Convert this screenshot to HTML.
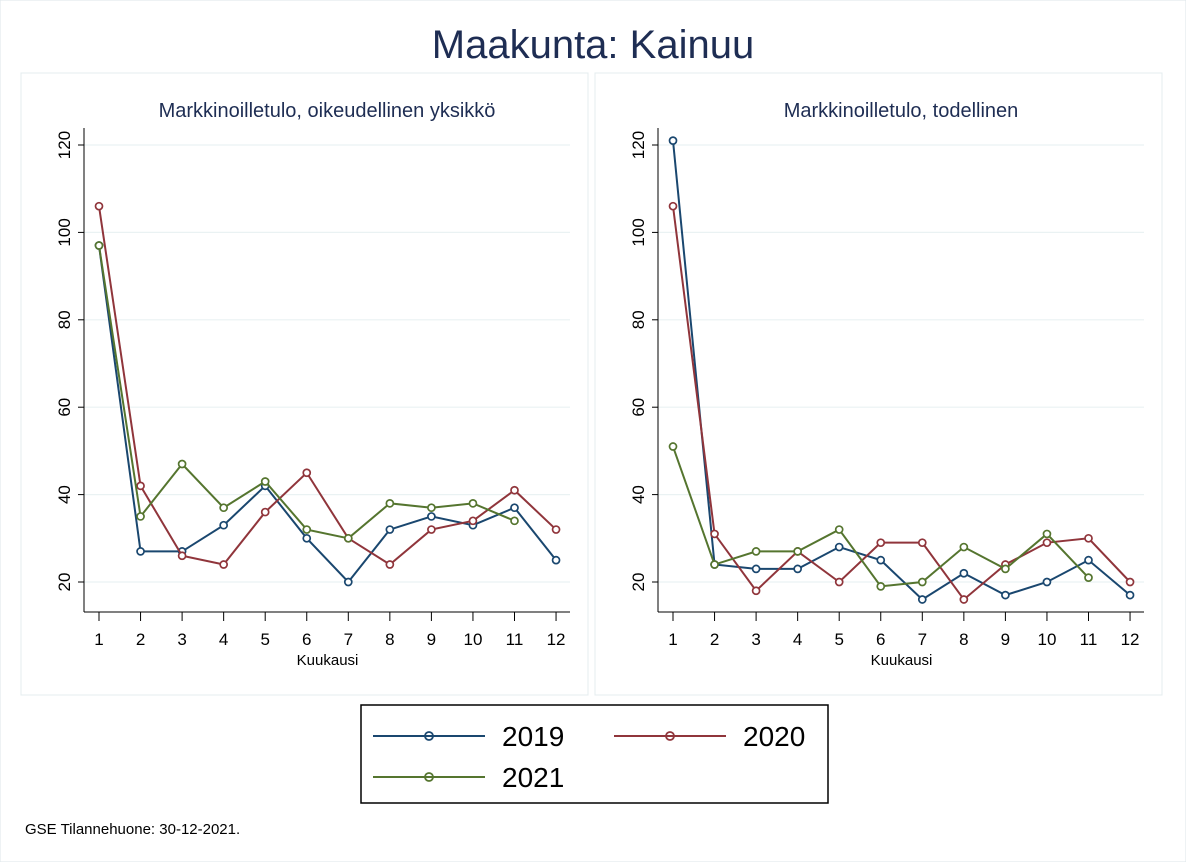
<!DOCTYPE html>
<html><head><meta charset="utf-8"><style>
body{margin:0;background:#fff;font-family:"Liberation Sans",sans-serif;}
svg text{font-family:"Liberation Sans",sans-serif;}
</style></head><body>
<svg id="c" width="1186" height="862" viewBox="0 0 1186 862" xmlns="http://www.w3.org/2000/svg">
<rect x="0" y="0" width="1186" height="862" fill="#fff" stroke="#dde6ea"/>
<text x="593" y="58" text-anchor="middle" font-size="40" fill="#1e2d53">Maakunta: Kainuu</text>
<g id="panels"></g>
<g>
<rect x="361" y="705" width="467" height="98" fill="#fff" stroke="#000" stroke-width="1.5"/>
<g><line x1="373" y1="736" x2="485" y2="736" stroke="#1a476f" stroke-width="2"/><circle cx="429" cy="736" r="4" fill="none" stroke="#1a476f" stroke-width="1.8"/><text x="502" y="746" font-size="28" fill="#000">2019</text></g>
<g><line x1="614" y1="736" x2="726" y2="736" stroke="#90353b" stroke-width="2"/><circle cx="670" cy="736" r="4" fill="none" stroke="#90353b" stroke-width="1.8"/><text x="743" y="746" font-size="28" fill="#000">2020</text></g>
<g><line x1="373" y1="777" x2="485" y2="777" stroke="#55752f" stroke-width="2"/><circle cx="429" cy="777" r="4" fill="none" stroke="#55752f" stroke-width="1.8"/><text x="502" y="787" font-size="28" fill="#000">2021</text></g>
</g>
<text x="25" y="834" font-size="15" fill="#000">GSE Tilannehuone: 30-12-2021.</text>
</svg>
<script>
const months=[1,2,3,4,5,6,7,8,9,10,11,12];
const yTicks=[20,40,60,80,100,120];
const left2019=[97,27,27,33,42,30,20,32,35,33,37,25];
const left2020=[106,42,26,24,36,45,30,24,32,34,41,32];
const left2021=[97,35,47,37,43,32,30,38,37,38,34];
const right2019=[121,24,23,23,28,25,16,22,17,20,25,17];
const right2020=[106,31,18,27,20,29,29,16,24,29,30,20];
const right2021=[51,24,27,27,32,19,20,28,23,31,21];
const colors={"2019":"#1a476f","2020":"#90353b","2021":"#55752f"};
const NS="http://www.w3.org/2000/svg";
const root=document.getElementById('panels');
function mk(tag,attrs,parent){const e=document.createElementNS(NS,tag);for(const k in attrs)e.setAttribute(k,attrs[k]);parent.appendChild(e);return e;}
function panel(px,title,series,nm){
  const g=mk('g',{},root);
  
  
  mk('rect',{x:px-63,y:73,width:567,height:622,fill:'#fff',stroke:'#e4ecef'},g);
  const x=m=>px+15+(m-1)*41.55;
  const y=v=>582-(v-20)*4.37;
  const t=mk('text',{x:px+243,y:117,'text-anchor':'middle','font-size':20,fill:'#1e2d53'},g);
  t.textContent=title;
  
  
  yTicks.forEach(v=>{
    mk('line',{x1:px,x2:px+486,y1:y(v),y2:y(v),stroke:'#eaf2f3','stroke-width':1.2},g);
    mk('line',{x1:px-6,x2:px,y1:y(v),y2:y(v),stroke:'#000'},g);
    const l=mk('text',{x:0,y:0,'text-anchor':'middle','font-size':17,fill:'#000',transform:`translate(${px-14},${y(v)}) rotate(-90)`},g);
    l.textContent=v;
    
    
  });
  mk('line',{x1:px,x2:px,y1:128,y2:612,stroke:'#000'},g);
  mk('line',{x1:px,x2:px+486,y1:612,y2:612,stroke:'#000'},g);
  months.forEach(m=>{
    mk('line',{x1:x(m),x2:x(m),y1:612,y2:621,stroke:'#000'},g);
    const l=mk('text',{x:x(m),y:645,'text-anchor':'middle','font-size':17,fill:'#000'},g);
    l.textContent=m;
    
    
  });
  const xt=mk('text',{x:x(6.5),y:665,'text-anchor':'middle','font-size':15,fill:'#000'},g);
  xt.textContent='Kuukausi';
  
  
  for(const yr in series){
    const d=series[yr];
    const pl=mk('polyline',{points:d.map((v,i)=>x(months[i])+','+y(v)).join(' '),fill:'none',stroke:colors[yr],'stroke-width':2},g);
    
    
    d.forEach((v,i)=>{
      const c=mk('circle',{cx:x(months[i]),cy:y(v),r:3.5,fill:'#fff',stroke:colors[yr],'stroke-width':1.7},g);
      
      
    });
  }
}
panel(84,'Markkinoilletulo, oikeudellinen yksikkö',{"2019":left2019,"2020":left2020,"2021":left2021},'left-panel');
panel(658,'Markkinoilletulo, todellinen',{"2019":right2019,"2020":right2020,"2021":right2021},'right-panel');
</script>
</body></html>
